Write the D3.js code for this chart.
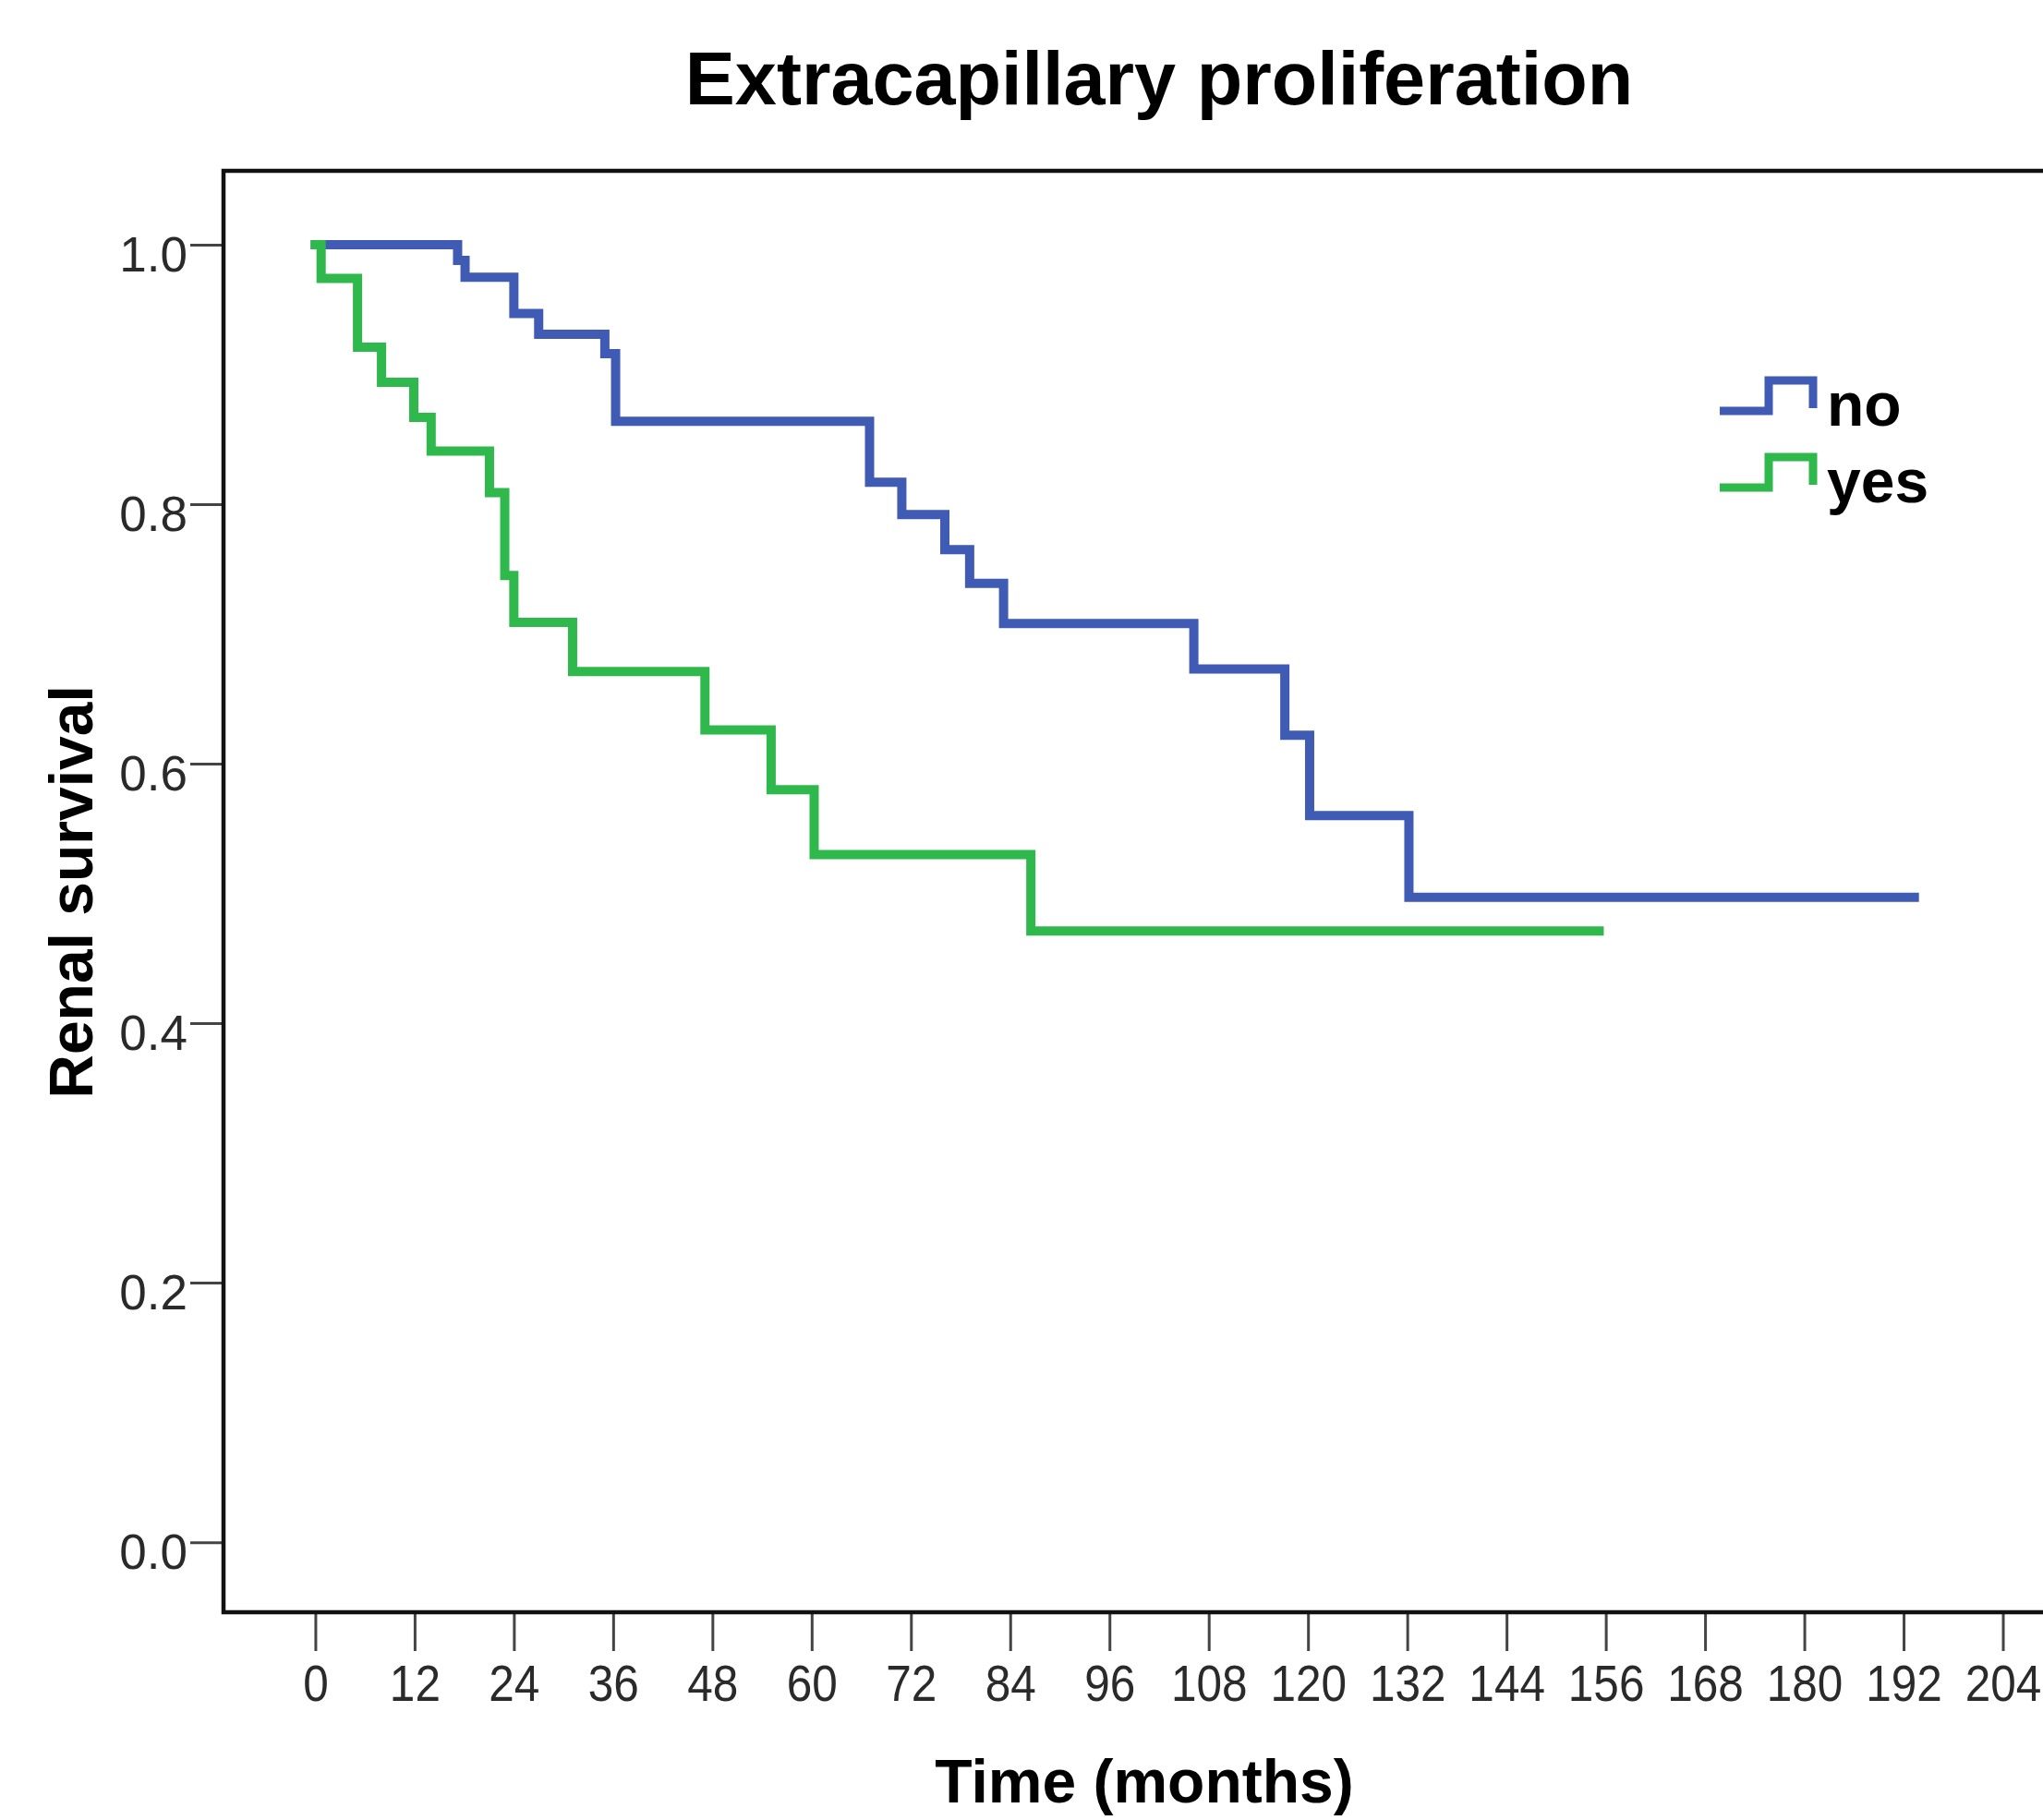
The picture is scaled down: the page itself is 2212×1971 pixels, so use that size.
<!DOCTYPE html>
<html>
  <head>
    <script src="https://d3js.org/d3.v7.min.js"></script>
    <style>
      body {
        margin: 0;
        background: #fff;
      }
      svg {
        font-family: "Liberation Sans", Arial, sans-serif;
      }
      .axis path.domain {
        display: none;
      }
      .axis line {
        stroke: #444;
        stroke-width: 3;
      }
      .axis text {
        fill: #2a2a2a;
      }
    </style>
  </head>
  <body>
    <script>
      // Kaplan-Meier steps (months, survival)
      var noTime = [0, 17.2, 18.1, 24.0, 27.0, 35.0, 36.3, 67.0, 70.9, 76.1, 79.1, 83.2, 106.2, 117.2, 120.2, 132.2, 193.3];
      var noSurv = [1.0, 0.988, 0.975, 0.947, 0.931, 0.916, 0.864, 0.817, 0.792, 0.765, 0.739, 0.708, 0.673, 0.622, 0.560, 0.497, 0.497];

      var yesTime = [0, 0.7, 5.1, 8.0, 11.9, 14.0, 21.05, 22.9, 24.0, 31.1, 47.1, 55.1, 60.3, 86.5, 155.2];
      var yesSurv = [1.0, 0.974, 0.921, 0.894, 0.867, 0.841, 0.809, 0.745, 0.709, 0.671, 0.626, 0.580, 0.530, 0.471, 0.471];

      var groups = ["no", "yes"];
      var colors = ["#3f5bb3", "#2fb84b"];
      var xTicks = d3.range(0, 205, 12);
      var yTicks = [0, 0.2, 0.4, 0.6, 0.8, 1.0];

      var W = 2212, H = 1971;
      var frame = { left: 242, top: 185, bottom: 1746, right: 2300 };

      var svg = d3.select("body").append("svg")
        .attr("width", W)
        .attr("height", H);

      // scales
      var x = d3.scaleLinear()
        .domain([-11, 216])
        .range([242.9, 2276]);
      var y = d3.scaleLinear()
        .domain([-0.054, 1.057])
        .range([frame.bottom, frame.top]);

      // title
      svg.append("text")
        .attr("x", 1255)
        .attr("y", 113)
        .attr("text-anchor", "middle")
        .style("font-size", "81px")
        .style("font-weight", "bold")
        .text("Extracapillary proliferation");

      // x axis
      var xAxis = svg.append("g")
        .attr("class", "axis")
        .attr("transform", "translate(0," + frame.bottom + ")")
        .call(d3.axisBottom(x).tickValues(xTicks).tickSize(42).tickPadding(15));
      xAxis.selectAll("text")
        .style("font-size", "55px")
        .attr("transform", "scale(0.9,1)");

      // y axis
      var yAxis = svg.append("g")
        .attr("class", "axis")
        .attr("transform", "translate(" + frame.left + ",0)")
        .call(d3.axisLeft(y).tickValues(yTicks).tickSize(36).tickPadding(3).tickFormat(d3.format(".1f")));
      yAxis.selectAll("text")
        .style("font-size", "53px")
        .attr("dy", "0.53em");

      // frame
      svg.append("rect")
        .attr("x", frame.left)
        .attr("y", frame.top)
        .attr("width", frame.right - frame.left)
        .attr("height", frame.bottom - frame.top)
        .attr("fill", "none")
        .attr("stroke", "#111")
        .attr("stroke-width", 4.5);

      // axis titles
      svg.append("text")
        .attr("x", 1239)
        .attr("y", 1952)
        .attr("text-anchor", "middle")
        .style("font-size", "66px")
        .style("font-weight", "bold")
        .text("Time (months)");

      svg.append("text")
        .attr("transform", "translate(100,966) rotate(-90)")
        .attr("text-anchor", "middle")
        .style("font-size", "66px")
        .style("font-weight", "bold")
        .text("Renal survival");

      // survival curves
      var line = d3.line()
        .x(function(d) { return x(d[0]); })
        .y(function(d) { return y(d[1]); })
        .curve(d3.curveStepAfter);

      var series = [d3.zip(noTime, noSurv), d3.zip(yesTime, yesSurv)];

      svg.selectAll(".km")
        .data(series)
        .enter().append("path")
        .attr("class", "km")
        .attr("d", line)
        .attr("fill", "none")
        .attr("stroke", function(d, i) { return colors[i]; })
        .attr("stroke-width", 10)
        .attr("stroke-linejoin", "miter")
        .attr("stroke-linecap", "square");

      // legend
      var legend = svg.selectAll(".legend")
        .data(groups)
        .enter().append("g")
        .attr("class", "legend")
        .attr("transform", function(d, i) { return "translate(1862," + (445 + i * 83) + ")"; });

      legend.append("path")
        .attr("d", "M0,0H53V-33H101V-3")
        .attr("fill", "none")
        .attr("stroke", function(d, i) { return colors[i]; })
        .attr("stroke-width", 9);

      legend.append("text")
        .attr("x", 116)
        .attr("y", 16)
        .style("font-size", "66px")
        .style("font-weight", "bold")
        .text(function(d) { return d; });
    </script>
  </body>
</html>
